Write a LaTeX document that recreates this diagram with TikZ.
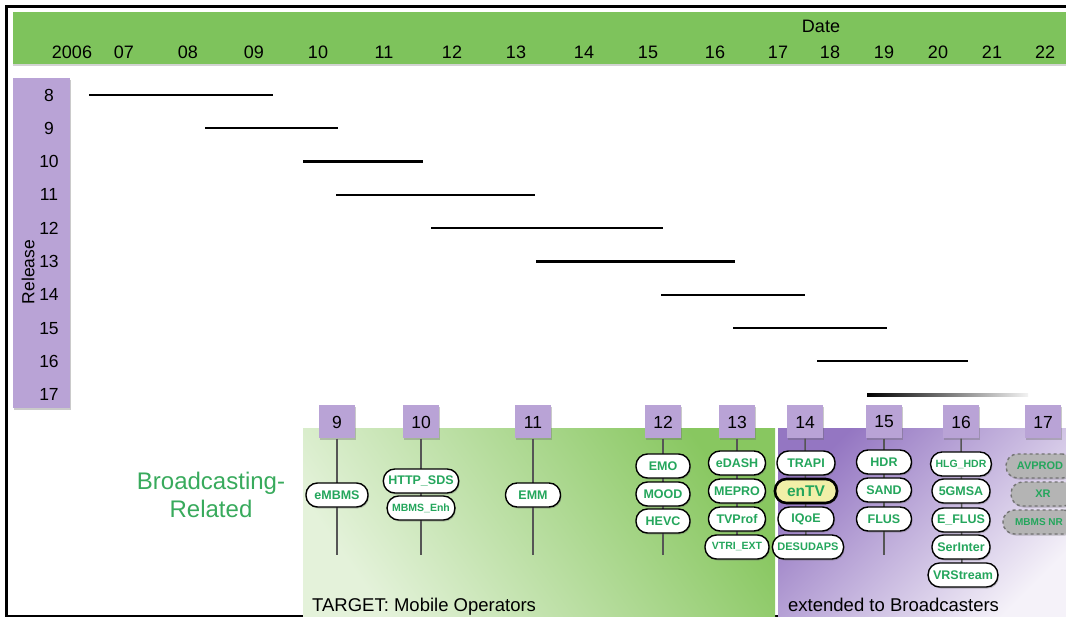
\documentclass[tikz,border=0pt]{standalone}
\usepackage{fontspec}
\setmainfont{Liberation Sans}
\usepackage{tikz}
\usetikzlibrary{shapes.misc, shadows, positioning}

\definecolor{headgreen}{RGB}{126, 195, 92}
\definecolor{relpurple}{RGB}{185, 163, 214}
\definecolor{pillgreen}{RGB}{36, 166, 92}
\definecolor{bcgreen}{RGB}{56, 170, 92}
\definecolor{areagreen}{RGB}{136, 199, 96}
\definecolor{areapale}{RGB}{228, 242, 218}
\definecolor{areapurple}{RGB}{148, 118, 194}
\definecolor{purplepale}{RGB}{245, 242, 249}
\definecolor{entvyellow}{RGB}{241, 239, 168}
\definecolor{wipgray}{RGB}{180, 180, 180}
\definecolor{stemgray}{RGB}{85, 85, 85}

\tikzset{
  softshadow/.style={drop shadow={shadow xshift=1pt, shadow yshift=-1.5pt, opacity=0.35, fill=black!60}},
  relbox/.style={fill=relpurple, minimum width=36pt, minimum height=33pt, inner sep=0pt,
    font=\fontsize{17.5}{18}\selectfont, softshadow},
  pill/.style={rectangle, rounded corners=11.5pt, draw=black, line width=1.4pt, fill=white, text=pillgreen,
    font=\fontsize{12.5}{12}\selectfont\bfseries, minimum height=24pt, inner xsep=5pt, inner ysep=0pt, softshadow},
  wippill/.style={pill, draw=black!55, fill=wipgray, dashed},
  stem/.style={draw=stemgray, line width=1.5pt},
  relbar/.style={line width=2.2pt},
  yearlabel/.style={font=\fontsize{18}{18}\selectfont, inner sep=0pt},
  relnum/.style={font=\fontsize{17.5}{18}\selectfont, inner sep=0pt},
}

\begin{document}
\begin{tikzpicture}[x=1pt, y=-1pt]
  \useasboundingbox (0,0) rectangle (1066,617);
  \clip (0,0) rectangle (1066,617);

  % Outer frame
  \draw[line width=2.6pt] (6.5,6.5) rectangle (1080,616);

  % Date header
  \node[fill=headgreen, anchor=north west, minimum width=1062pt, minimum height=52pt, inner sep=0pt,
    drop shadow={shadow xshift=0pt, shadow yshift=-2pt, opacity=0.35}] (header) at (13,12) {};
  \node[yearlabel] (date) at (821,26) {Date};
  \foreach \yr/\px in {2006/72, 07/124, 08/188, 09/254, 10/318, 11/384, 12/452, 13/516, 14/584,
                       15/648, 16/715, 17/778, 18/830, 19/884, 20/938, 21/992, 22/1045}
    \node[yearlabel] (y\yr) at (\px,52) {\yr};

  % Release column
  \node[fill=relpurple, anchor=north west, minimum width=57pt, minimum height=330pt, inner sep=0pt,
    softshadow] (relcol) at (13,78) {};
  \node[relnum, rotate=90] (reltitle) at (28,272) {Release};
  \foreach \r [count=\i from 0] in {8,...,17}
    \node[relnum] (r\r) at (49,{95+33.3*\i}) {\r};

  % Release spans
  \foreach \r/\xa/\xb in {8/89/273, 9/205/338, 10/303/423, 11/336/535, 12/431/663,
                          13/536/735, 14/661/805, 15/733/887, 16/817/968}
    \draw[relbar] (\xa,{95+33.3*(\r-8)}) -- (\xb,{95+33.3*(\r-8)});
  \shade[left color=black, right color=black!5] (867,{95+33.3*9-1.5}) rectangle (1028,{95+33.3*9+1.5});

  % Target areas
  \shade[top color=areagreen, bottom color=areapale, shading angle=-55] (303,429) rectangle (775,620);
  \shade[top color=areapurple, bottom color=purplepale, shading angle=45] (778,429) rectangle (1070,620);

  \node[font=\fontsize{24}{28}\selectfont, text=bcgreen, align=center] (bcrel) at (211,495) {Broadcasting-\\Related};
  \node[font=\fontsize{18.5}{19}\selectfont, anchor=base west, inner sep=0pt] (target) at (312,611) {TARGET: Mobile Operators};
  \node[font=\fontsize{18.5}{19}\selectfont, anchor=base west, inner sep=0pt] (extended) at (788,611) {extended to Broadcasters};

  % Release boxes and stems
  \node[relbox] (b9) at (337,422) {9};
  \node[relbox] (b10) at (421,422) {10};
  \node[relbox] (b11) at (533,422) {11};
  \node[relbox] (b12) at (663,422) {12};
  \node[relbox] (b13) at (737,422) {13};
  \node[relbox] (b14) at (805,422) {14};
  \node[relbox] (b15) at (884,422) {15};
  \node[relbox] (b16) at (961,422) {16};
  \node[relbox] (b17) at (1043,422) {17};

  \coordinate (e9) at (337,555);
  \coordinate (e10) at (421,555);
  \coordinate (e11) at (533,555);
  \coordinate (e12) at (663,555);
  \coordinate (e13) at (737,547);
  \coordinate (e14) at (806,547);
  \coordinate (e15) at (884,555);
  \coordinate (e16) at (962,575);
  \draw[stem] (b9) -- (e9);
  \draw[stem] (b10) -- (e10);
  \draw[stem] (b11) -- (e11);
  \draw[stem] (b12) -- (e12);
  \draw[stem] (b13) -- (e13);
  \draw[stem] (b14) -- (e14);
  \draw[stem] (b15) -- (e15);
  \draw[stem] (b16) -- (e16);

  % Work items, Rel-9 to Rel-13
  \node[pill, minimum width=62pt] (embms) at (337,495) {eMBMS};
  \node[pill, minimum width=75pt, font=\fontsize{12.5}{12}\selectfont\bfseries] (httpsds) at (421,481) {HTTP\_SDS};
  \node[pill, minimum width=64pt, font=\fontsize{10.5}{10}\selectfont\bfseries] (mbmsenh) at (421,508) {MBMS\_Enh};
  \node[pill, minimum width=55pt] (emm) at (533,495) {EMM};
  \node[pill, minimum width=54pt] (emo) at (663,466) {EMO};
  \node[pill, minimum width=54pt] (mood) at (663,494) {MOOD};
  \node[pill, minimum width=54pt] (hevc) at (663,521) {HEVC};
  \node[pill, minimum width=57pt] (edash) at (737,463) {eDASH};
  \node[pill, minimum width=57pt] (mepro) at (737,491) {MEPRO};
  \node[pill, minimum width=57pt] (tvprof) at (737,519) {TVProf};
  \node[pill, minimum width=64pt, font=\fontsize{10.5}{10}\selectfont\bfseries] (vtriext) at (737,547) {VTRI\_EXT};

  % Work items, Rel-14 to Rel-17
  \node[pill, minimum width=58pt] (trapi) at (806,463) {TRAPI};
  \node[pill, minimum width=62pt, fill=entvyellow, line width=2.6pt, font=\fontsize{15.5}{15}\selectfont\bfseries] (entv) at (806,491) {enTV};
  \node[pill, minimum width=56pt] (iqoe) at (806,519) {IQoE};
  \node[pill, minimum width=68pt, font=\fontsize{11}{11}\selectfont\bfseries] (desudaps) at (808,547) {DESUDAPS};
  \node[pill, minimum width=55pt] (hdr) at (884,462) {HDR};
  \node[pill, minimum width=55pt] (sand) at (884,490) {SAND};
  \node[pill, minimum width=55pt] (flus) at (884,519) {FLUS};
  \node[pill, minimum width=58pt, font=\fontsize{10.5}{10}\selectfont\bfseries] (hlghdr) at (961,464) {HLG\_HDR};
  \node[pill, minimum width=58pt] (fivegmsa) at (961,491) {5GMSA};
  \node[pill, minimum width=58pt] (eflus) at (961,520) {E\_FLUS};
  \node[pill, minimum width=58pt] (serinter) at (961,547) {SerInter};
  \node[pill, minimum width=64pt] (vrstream) at (963,575) {VRStream};
  \node[wippill, minimum width=68pt, font=\fontsize{11}{11}\selectfont\bfseries] (avprod) at (1040,466) {AVPROD};
  \node[wippill, minimum width=64pt, font=\fontsize{11}{11}\selectfont\bfseries] (xr) at (1043,494) {XR};
  \node[wippill, minimum width=72pt, font=\fontsize{10}{10}\selectfont\bfseries] (mbmsnr) at (1039,522) {MBMS NR};
\end{tikzpicture}
\end{document}
